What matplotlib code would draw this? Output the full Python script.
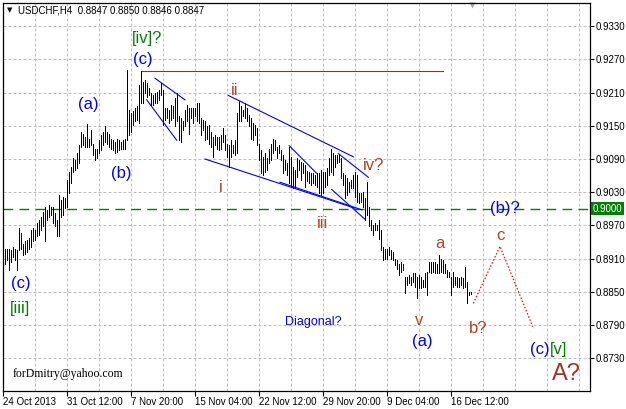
import matplotlib.pyplot as plt
import matplotlib.transforms as mtransforms
import numpy as np

plt.rcParams['font.family'] = ['Liberation Sans', 'DejaVu Sans']

# H4 bars, high / low, oldest first
highs = [
    .8928, .8927, .8928, .8925, .8931, .8928, .8925, .8965, .8956, .8937,
    .8941, .8944, .8947, .8962, .8965, .8962, .8974, .8980, .8986, .8995,
    .9004, .8998, .9007, .9004, .9004, .8992, .8980, .9025, .9016, .9022,
    .9019, .9052, .9067, .9076, .9091, .9088, .9100, .9115, .9139, .9136,
    .9130, .9154, .9127, .9142, .9118, .9109, .9109, .9124, .9133, .9139,
    .9149, .9139, .9136, .9127, .9124, .9121, .9127, .9124, .9121, .9124,
    .9127, .9251, .9179, .9173, .9176, .9182, .9185, .9224, .9249, .9230,
    .9233, .9227, .9218, .9209, .9206, .9209, .9212, .9215, .9227, .9215,
    .9182, .9182, .9179, .9188, .9185, .9200, .9209, .9167, .9164, .9158,
    .9179, .9188, .9182, .9182, .9182, .9182, .9191, .9191, .9164, .9161,
    .9158, .9149, .9152, .9139, .9130, .9133, .9130, .9130, .9133, .9146,
    .9133, .9118, .9115, .9124, .9115, .9124, .9173, .9194, .9185, .9179,
    .9191, .9182, .9170, .9164, .9155, .9152, .9146, .9118, .9106, .9094,
    .9100, .9091, .9109, .9118, .9127, .9124, .9112, .9115, .9106, .9097,
    .9088, .9082, .9112, .9094, .9076, .9070, .9091, .9088, .9085, .9082,
    .9080, .9068, .9066, .9064, .9064, .9061, .9064, .9064, .9070, .9067,
    .9067, .9073, .9091, .9109, .9100, .9097, .9097, .9097, .9091, .9064,
    .9061, .9055, .9049, .9052, .9061, .9067, .9061, .9028, .9028, .9031,
    .9019, .9049, .9004, .8980, .8971, .8974, .8971, .8980, .8962, .8931,
    .8928, .8928, .8931, .8925, .8922, .8910, .8907, .8901, .8904, .8901,
    .8877, .8877, .8880, .8877, .8883, .8883, .8877, .8880, .8877, .8871,
    .8883, .8886, .8904, .8904, .8904, .8904, .8901, .8916, .8910, .8907,
    .8901, .8889, .8886, .8877, .8886, .8877, .8877, .8874, .8877, .8874,
    .8895, .8868, .8850, .8850]
lows = [
    .8901, .8907, .8889, .8904, .8913, .8907, .8889, .8925, .8928, .8916,
    .8919, .8922, .8928, .8931, .8941, .8944, .8950, .8953, .8962, .8968,
    .8941, .8980, .8986, .8989, .8974, .8968, .8950, .8950, .8986, .8989,
    .9001, .9004, .9028, .9046, .9067, .9070, .9073, .9082, .9112, .9115,
    .9112, .9112, .9112, .9115, .9097, .9088, .9091, .9100, .9106, .9115,
    .9121, .9118, .9112, .9109, .9106, .9100, .9103, .9106, .9109, .9109,
    .9109, .9124, .9133, .9139, .9152, .9158, .9161, .9155, .9191, .9191,
    .9209, .9203, .9206, .9188, .9188, .9191, .9191, .9197, .9206, .9152,
    .9161, .9164, .9155, .9161, .9164, .9149, .9158, .9124, .9121, .9142,
    .9149, .9158, .9136, .9164, .9155, .9167, .9158, .9155, .9133, .9142,
    .9124, .9127, .9118, .9112, .9094, .9115, .9109, .9106, .9109, .9121,
    .9106, .9094, .9076, .9094, .9100, .9097, .9100, .9158, .9158, .9167,
    .9164, .9158, .9149, .9127, .9124, .9133, .9115, .9088, .9064, .9061,
    .9067, .9070, .9082, .9088, .9100, .9106, .9091, .9100, .9088, .9064,
    .9070, .9061, .9046, .9040, .9037, .9040, .9058, .9070, .9052, .9064,
    .9040, .9050, .9047, .9043, .9046, .9043, .9040, .9028, .9025, .9028,
    .9040, .9043, .9061, .9067, .9061, .9076, .9082, .9085, .9055, .9043,
    .9019, .9025, .9031, .9037, .9037, .9022, .9013, .9010, .9013, .9004,
    .8980, .8989, .8968, .8962, .8953, .8962, .8962, .8946, .8925, .8907,
    .8910, .8910, .8916, .8910, .8907, .8898, .8892, .8880, .8886, .8889,
    .8847, .8862, .8865, .8862, .8868, .8859, .8838, .8856, .8856, .8859,
    .8859, .8844, .8886, .8883, .8886, .8883, .8883, .8883, .8886, .8883,
    .8883, .8877, .8877, .8844, .8859, .8862, .8859, .8859, .8862, .8856,
    .8859, .8829, .8844, .8846]
bars = np.arange(1, len(highs) + 1)

price_ticks = [0.9330, 0.9270, 0.9210, 0.9150, 0.9090, 0.9030,
               0.8970, 0.8910, 0.8850, 0.8790, 0.8730]
date_pos = [0, 32, 64, 96, 128, 160, 192, 224]
date_labels = ['24 Oct 2013', '31 Oct 12:00', '7 Nov 20:00', '15 Nov 04:00',
               '22 Nov 12:00', '29 Nov 20:00', '9 Dec 04:00', '16 Dec 12:00']

# drawn objects
top_level = 0.9249
top_level_x = [69.35, 219.85]
level_9000 = 0.9000
channels = [
    ([76, 91], [0.9236, 0.9197]),
    ([71.85, 86.85], [0.9197, 0.9124]),
    ([112.65, 175.15], [0.9205, 0.9094]),
    ([101, 176], [0.9090, 0.9001]),
    ([138.5, 179.5], [0.9048, 0.8998]),
    ([143.15, 156.85], [0.9114, 0.9064]),
    ([167.65, 182.65], [0.9100, 0.9057]),
    ([164.35, 181], [0.9035, 0.8981]),
]
proj_x = [235.15, 248.5, 264.85]
proj_y = [0.8829, 0.8932, 0.8787]

blue = '#0000ff'
green = '#008000'
brown = '#b0451f'
labels = [
    ('[iv]?', 72.25, 0.92998, green, 12),
    ('(c)', 69.7, 0.92609, blue, 12),
    ('(a)', 42.5, 0.91804, blue, 12),
    ('(b)', 59, 0.90557, blue, 12),
    ('(c)', 8.75, 0.88568, blue, 12),
    ('[iii]', 8.5, 0.88107, green, 12),
    ('ii', 116, 0.92058, brown, 12),
    ('i', 108.75, 0.90304, brown, 12),
    ('iii', 159.75, 0.89653, brown, 12),
    ('iv?', 185.25, 0.90701, brown, 12),
    ('a', 218.5, 0.89291, brown, 12),
    ('c', 248.5, 0.89436, brown, 12),
    ('(b)?', 251, 0.89915, blue, 12),
    ('v', 208.25, 0.87899, brown, 12),
    ('(a)', 209.75, 0.87519, blue, 12),
    ('b?', 237.5, 0.87754, brown, 12),
    ('A?', 281.5, 0.86904, '#a33028', 17),
    ('Diagonal?', 155.25, 0.87899, blue, 9),
]

fig = plt.figure(figsize=(6.26, 4.09), dpi=100)
ax = fig.add_axes([3 / 626, 1 - 391 / 409, 587 / 626, 388 / 409])
ax.set_xlim(0, 293.5)
ax.set_ylim(0.86705, 0.93721)

for v in price_ticks:
    ax.axhline(v, color='#c0c0c0', lw=0.72, ls=(0, (3, 2)), zorder=0)
for g in range(0, 294, 16):
    ax.axvline(g, color='#c0c0c0', lw=0.72, ls=(0, (3, 2)), zorder=0)

ax.vlines(bars, lows, highs, color='black', lw=0.6, antialiased=False, zorder=3)

ax.axhline(level_9000, color=green, lw=1, ls=(0, (7, 4.5)), zorder=2)
ax.plot(top_level_x, [top_level, top_level], color='red', lw=0.8, zorder=2)
for xs, ys in channels:
    ax.plot(xs, ys, color=blue, lw=0.8, zorder=4)
ax.plot(proj_x, proj_y, color='red', lw=0.9, ls=(0, (1.2, 1.5)), zorder=4)

for txt, x, y, c, s in labels:
    ax.text(x, y, txt, color=c, fontsize=s, ha='center', va='baseline', zorder=5)
ax.text(273.5, 0.87374, '(c)', color=blue, fontsize=12, ha='right', va='baseline')
ax.text(273.5, 0.87374, '[v]', color=green, fontsize=12, ha='left', va='baseline')
ax.text(5, 0.86958, 'forDmitry@yahoo.com', family='Liberation Serif', fontsize=8.5,
        ha='left', va='baseline')

# chart shift marker
ax.plot([234.3], [0.93676], marker='v', color='#a8a8a8', ms=5, mec='none', clip_on=False)

ax.yaxis.tick_right()
ax.set_yticks(price_ticks)
ax.set_yticklabels([f'{v:.4f}' for v in price_ticks])
ax.tick_params(axis='y', direction='out', length=3, width=0.8, pad=1, labelsize=7)
ax.set_xticks(date_pos)
ax.set_xticklabels(date_labels, ha='left')
ax.tick_params(axis='x', direction='out', length=3.6, width=0.8, pad=0.5, labelsize=7)
for sp in ax.spines.values():
    sp.set_color('black')
    sp.set_linewidth(0.9)

trans = mtransforms.blended_transform_factory(ax.transAxes, ax.transData)
ax.text(1.005, level_9000, '0.9000', transform=trans, color='white', fontsize=7,
        ha='left', va='center', clip_on=False,
        bbox=dict(facecolor=green, edgecolor='none', pad=1.2))

fig.text(7 / 626, 1 - 10.5 / 409, '\u25bc', fontsize=5, va='center', family='DejaVu Sans')
fig.text(18 / 626, 1 - 10.5 / 409, 'USDCHF,H4  0.8847 0.8850 0.8846 0.8847',
         fontsize=7, va='center')

fig.savefig('out.png', dpi=100)
